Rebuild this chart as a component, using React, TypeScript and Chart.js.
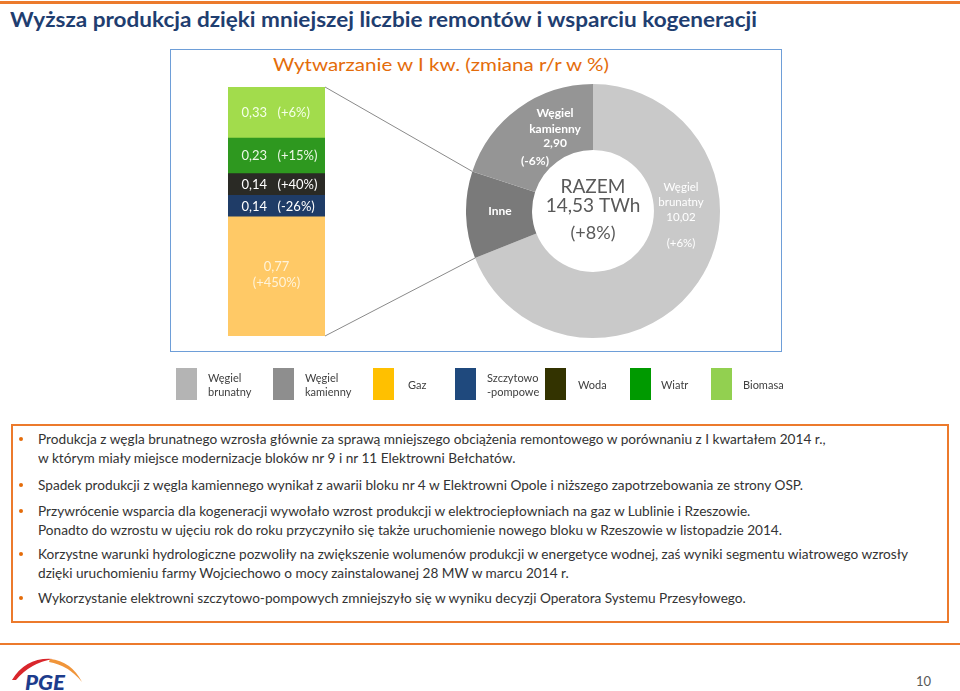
import React, { useEffect, useLayoutEffect, useRef } from "react";
import { Chart, registerables } from "chart.js";

Chart.register(...registerables);

const FONT = "Lato, 'Open Sans', 'Noto Sans', sans-serif";

// ---- Stacked bar ("Inne" breakdown), bottom to top ----
const barCategories = ["Inne"];
const barSeries = ["Gaz", "Szczytowo-pompowe", "Woda", "Wiatr", "Biomasa"];
const barValues = [0.77, 0.14, 0.14, 0.23, 0.33];
const barChanges = ["+450%", "-26%", "+40%", "+15%", "+6%"];
const barColors = ["#FFC966", "#1F3C67", "#2A2A25", "#2E981F", "#A2DC4C"];
const barLabelColors = ["#FFF3D9", "#FFFFFF", "#FFFFFF", "#ECF8E6", "#F4FFE8"];

// ---- Doughnut ----
const donutLabels = ["Węgiel brunatny", "Inne", "Węgiel kamienny"];
const donutValues = [10.02, 1.61, 2.9];
const donutChanges = ["+6%", "", "-6%"];
const donutColors = ["#C9C9C9", "#7A7A7A", "#959595"];
const totalTitle = "RAZEM";
const totalValue = "14,53 TWh";
const totalChange = "(+8%)";

// ---- Legend ----
const legendLabels = [
  ["Węgiel", "brunatny"],
  ["Węgiel", "kamienny"],
  ["Gaz"],
  ["Szczytowo", "-pompowe"],
  ["Woda"],
  ["Wiatr"],
  ["Biomasa"],
];
const legendColors = ["#B4B4B4", "#8E8E8E", "#FFC000", "#1F497D", "#333300", "#009A00", "#92D050"];

// ---- Texts ----
const slideTitle = "Wyższa produkcja dzięki mniejszej liczbie remontów i wsparciu kogeneracji";
const chartTitle = "Wytwarzanie w I kw. (zmiana r/r w %)";
const bullets = [
  [
    "Produkcja z węgla brunatnego wzrosła głównie za sprawą mniejszego obciążenia remontowego w porównaniu z I kwartałem 2014 r.,",
    "w którym miały miejsce modernizacje bloków nr 9 i nr 11 Elektrowni Bełchatów.",
  ],
  ["Spadek produkcji z węgla kamiennego wynikał z awarii bloku nr 4 w Elektrowni Opole i niższego zapotrzebowania ze strony OSP."],
  [
    "Przywrócenie wsparcia dla kogeneracji wywołało wzrost produkcji w elektrociepłowniach na gaz w Lublinie i Rzeszowie.",
    "Ponadto do wzrostu w ujęciu rok do roku przyczyniło się także uruchomienie nowego bloku w Rzeszowie w listopadzie 2014.",
  ],
  [
    "Korzystne warunki hydrologiczne pozwoliły na zwiększenie wolumenów produkcji w energetyce wodnej, zaś wyniki segmentu wiatrowego wzrosły",
    "dzięki uruchomieniu farmy Wojciechowo o mocy zainstalowanej 28 MW w marcu 2014 r.",
  ],
  ["Wykorzystanie elektrowni szczytowo-pompowych zmniejszyło się w wyniku decyzji Operatora Systemu Przesyłowego."],
];
const pageNumber = "10";

function fmt(v: number) {
  return v.toFixed(2).replace(".", ",");
}

function FitText(props: {
  text: string;
  x: number;
  baseline: number;
  width: number;
  size: number;
  weight?: number;
  color: string;
}) {
  const { text, x, baseline, width, size, weight = 400, color } = props;
  const ref = useRef<HTMLSpanElement>(null);
  useLayoutEffect(() => {
    const el = ref.current;
    if (!el) return;
    const fit = () => {
      el.style.transform = "none";
      const w = el.getBoundingClientRect().width;
      if (w > 0) el.style.transform = `scaleX(${width / w})`;
    };
    fit();
    const f = (document as any).fonts;
    if (f && f.ready) f.ready.then(fit);
  }, [text, width]);
  return (
    <span
      ref={ref}
      style={{
        position: "absolute",
        left: x,
        top: baseline - size * 0.887,
        fontFamily: FONT,
        fontSize: size,
        fontWeight: weight,
        color,
        lineHeight: `${size}px`,
        whiteSpace: "nowrap",
        transformOrigin: "0 0",
      }}
    >
      {text}
    </span>
  );
}

function BulletBlock() {
  const refs = useRef<(HTMLSpanElement | null)[]>([]);
  const size = 14;
  const baselines = [[444, 463], [490], [516, 535], [559, 578], [603]];
  const lines: { text: string; baseline: number }[] = [];
  bullets.forEach((b, i) => b.forEach((t, j) => lines.push({ text: t, baseline: baselines[i][j] })));
  useLayoutEffect(() => {
    const fit = () => {
      const els = refs.current.filter(Boolean) as HTMLSpanElement[];
      els.forEach((e) => (e.style.transform = "none"));
      const ref = els[5];
      const w = ref.getBoundingClientRect().width;
      const s = 870 / w;
      els.forEach((e) => (e.style.transform = `scaleX(${s})`));
    };
    fit();
    const f = (document as any).fonts;
    if (f && f.ready) f.ready.then(fit);
  }, []);
  return (
    <>
      {bullets.map((b, i) => (
        <div
          key={"d" + i}
          style={{
            position: "absolute",
            left: 19,
            top: baselines[i][0] - 7,
            width: 4,
            height: 4,
            borderRadius: 2,
            background: "#E46C0A",
          }}
        />
      ))}
      {lines.map((l, k) => (
        <span
          key={k}
          ref={(el) => {
            refs.current[k] = el;
          }}
          style={{
            position: "absolute",
            left: 38,
            top: l.baseline - size * 0.887,
            fontFamily: FONT,
            fontSize: size,
            color: "#333333",
            lineHeight: `${size}px`,
            whiteSpace: "nowrap",
            transformOrigin: "0 0",
          }}
        >
          {l.text}
        </span>
      ))}
    </>
  );
}

const BAR_LEFT = 228;
const BAR_TOP = 87;
const DONUT_LEFT = 466;
const DONUT_TOP = 84;

export default function App() {
  const barRef = useRef<HTMLCanvasElement>(null);
  const donutRef = useRef<HTMLCanvasElement>(null);
  const linkRef = useRef<HTMLCanvasElement>(null);

  useEffect(() => {
    const barTotal = barValues.reduce((a, b) => a + b, 0);

    const barLabelPlugin = {
      id: "barLabels",
      afterDatasetsDraw(chart: any) {
        const ctx = chart.ctx;
        ctx.save();
        ctx.font = `13px ${FONT}`;
        chart.data.datasets.forEach((_ds: any, i: number) => {
          const el = chart.getDatasetMeta(i).data[0];
          const cx = el.x;
          const cy = (el.y + el.base) / 2;
          const h = Math.abs(el.base - el.y);
          ctx.fillStyle = barLabelColors[i];
          if (h > 60) {
            ctx.textAlign = "center";
            ctx.fillText(fmt(barValues[i]), cx, cy - 5.5);
            ctx.fillText(`(${barChanges[i]})`, cx, cy + 10.5);
          } else {
            ctx.textAlign = "right";
            ctx.fillText(fmt(barValues[i]), cx - 9.5, cy + 4.5);
            ctx.textAlign = "left";
            ctx.fillText(`(${barChanges[i]})`, cx + 1, cy + 4.5);
          }
        });
        ctx.restore();
      },
    };

    const bar = new Chart(barRef.current!, {
      type: "bar",
      data: {
        labels: barCategories,
        datasets: barSeries.map((name, i) => ({
          label: name,
          data: [barValues[i]],
          backgroundColor: barColors[i],
          borderWidth: 0,
          barPercentage: 1,
          categoryPercentage: 1,
        })),
      },
      options: {
        responsive: false,
        maintainAspectRatio: false,
        animation: false,
        layout: { padding: 0 },
        scales: {
          x: { stacked: true, display: false },
          y: { stacked: true, display: false, min: 0, max: barTotal },
        },
        plugins: { legend: { display: false }, tooltip: { enabled: false } },
      },
      plugins: [barLabelPlugin],
    });

    const donutLabelPlugin = {
      id: "donutLabels",
      afterDatasetsDraw(chart: any) {
        const ctx = chart.ctx;
        const meta = chart.getDatasetMeta(0);
        const cx = meta.data[0].x;
        const cy = meta.data[0].y;
        ctx.save();
        ctx.textAlign = "center";
        // center total
        ctx.fillStyle = "#595959";
        ctx.font = `19px ${FONT}`;
        ctx.fillText(totalTitle, cx, cy - 18);
        ctx.fillText(totalValue, cx, cy + 1);
        ctx.font = `18px ${FONT}`;
        ctx.fillText(totalChange, cx, cy + 28);
        // slice labels
        const place = [
          { dx: 88, ys: [-20, -5, 10, 36], pdx: 0, bold: false, size: 11.5 },
          { dx: -93, ys: [4], pdx: 0, bold: true, size: 12 },
          { dx: -38, ys: [-94, -78, -64, -46], pdx: -20, bold: true, size: 12 },
        ];
        donutLabels.forEach((lab, i) => {
          const p = place[i];
          ctx.font = `${p.bold ? "bold " : ""}${p.size}px ${FONT}`;
          ctx.fillStyle = "#FFFFFF";
          const parts = lab.split(" ");
          const lines = donutChanges[i]
            ? [...parts, fmt(donutValues[i]), `(${donutChanges[i]})`]
            : [lab];
          lines.forEach((t, k) => {
            const extra = k === 3 ? p.pdx : 0;
            ctx.fillText(t, cx + p.dx + extra, cy + p.ys[k]);
          });
        });
        ctx.restore();
      },
    };

    const donut = new Chart(donutRef.current!, {
      type: "doughnut",
      data: {
        labels: donutLabels,
        datasets: [
          {
            data: donutValues,
            backgroundColor: donutColors,
            borderWidth: 0,
          },
        ],
      },
      options: {
        responsive: false,
        maintainAspectRatio: false,
        animation: false,
        cutout: "48%",
        layout: { padding: 0 },
        plugins: { legend: { display: false }, tooltip: { enabled: false } },
      },
      plugins: [donutLabelPlugin],
    });

    // connectors from the bar to the "Inne" slice
    const lc = linkRef.current!;
    const ctx = lc.getContext("2d")!;
    ctx.clearRect(0, 0, lc.width, lc.height);
    const topEl: any = bar.getDatasetMeta(barSeries.length - 1).data[0];
    const botEl: any = bar.getDatasetMeta(0).data[0];
    const barRight = BAR_LEFT + topEl.x + topEl.width / 2;
    const barTopY = BAR_TOP + topEl.y;
    const barBotY = BAR_TOP + botEl.base;
    const arc: any = donut.getDatasetMeta(0).data[1];
    const ax = DONUT_LEFT + arc.x;
    const ay = DONUT_TOP + arc.y;
    const r = arc.outerRadius;
    ctx.strokeStyle = "#8A8A8A";
    ctx.lineWidth = 1;
    ctx.beginPath();
    ctx.moveTo(barRight, barTopY);
    ctx.lineTo(ax + r * Math.cos(arc.endAngle), ay + r * Math.sin(arc.endAngle));
    ctx.moveTo(barRight, barBotY);
    ctx.lineTo(ax + r * Math.cos(arc.startAngle), ay + r * Math.sin(arc.startAngle));
    ctx.stroke();

    return () => {
      bar.destroy();
      donut.destroy();
    };
  }, []);

  const legendBoxX = [176, 273, 373, 455, 545, 630, 711];
  const legendTextX = [208, 305, 408, 487, 578, 661, 743];

  return (
    <div
      style={{
        position: "absolute",
        left: 0,
        top: 0,
        width: 960,
        height: 691,
        background: "#FFFFFF",
        overflow: "hidden",
        fontFamily: FONT,
      }}
    >
      {/* top orange rule */}
      <div style={{ position: "absolute", left: 0, top: 1, width: 960, height: 3, background: "#EC7A2C" }} />
      <FitText text={slideTitle} x={10} baseline={27} width={747} size={20} weight={700} color="#1F3E70" />

      {/* chart frame */}
      <div
        style={{
          position: "absolute",
          left: 170,
          top: 49,
          width: 612,
          height: 303,
          border: "1.5px solid #6E9ED8",
          boxSizing: "border-box",
        }}
      />
      <FitText text={chartTitle} x={273} baseline={71} width={336} size={18} color="#E46C0A" />

      <canvas ref={linkRef} width={960} height={400} style={{ position: "absolute", left: 0, top: 0, zIndex: 0 }} />
      <canvas
        ref={barRef}
        width={97}
        height={249}
        style={{ position: "absolute", left: BAR_LEFT, top: BAR_TOP, width: 97, height: 249, zIndex: 1 }}
      />
      <canvas
        ref={donutRef}
        width={254}
        height={254}
        style={{ position: "absolute", left: DONUT_LEFT, top: DONUT_TOP, width: 254, height: 254, zIndex: 1 }}
      />

      {/* legend */}
      {legendLabels.map((lab, i) => (
        <React.Fragment key={i}>
          <div
            style={{
              position: "absolute",
              left: legendBoxX[i],
              top: 368,
              width: 21,
              height: 32,
              background: legendColors[i],
            }}
          />
          <div
            style={{
              position: "absolute",
              left: legendTextX[i],
              top: lab.length === 2 ? 371 : 378,
              fontSize: 11,
              lineHeight: "14px",
              color: "#404040",
              whiteSpace: "nowrap",
            }}
          >
            {lab.map((t, k) => (
              <div key={k}>{t}</div>
            ))}
          </div>
        </React.Fragment>
      ))}

      {/* bullet box */}
      <div
        style={{
          position: "absolute",
          left: 11,
          top: 424,
          width: 938,
          height: 199,
          border: "2px solid #EC7A2C",
          boxSizing: "border-box",
        }}
      />
      <BulletBlock />

      {/* footer */}
      <div style={{ position: "absolute", left: 0, top: 643, width: 960, height: 2, background: "#EC7A2C" }} />
      <svg
        style={{ position: "absolute", left: 0, top: 650 }}
        width={100}
        height={41}
        viewBox="0 650 100 41"
      >
        <path d="M 12 680 Q 26 657 53 659 Q 30 663 16 680 Z" fill="#D9262C" />
        <path d="M 50 659 Q 71 661 82 682 Q 68 665 49 662 Z" fill="#F0953A" />
        <text
          x={25}
          y={690}
          fontFamily={FONT}
          fontSize={21}
          fontWeight={900}
          fontStyle="italic"
          fill="#1D3C8C"
          textLength={40}
          lengthAdjust="spacingAndGlyphs"
        >
          PGE
        </text>
      </svg>
      <div
        style={{
          position: "absolute",
          left: 916,
          top: 675,
          fontSize: 13,
          lineHeight: "13px",
          color: "#595959",
        }}
      >
        {pageNumber}
      </div>
    </div>
  );
}
